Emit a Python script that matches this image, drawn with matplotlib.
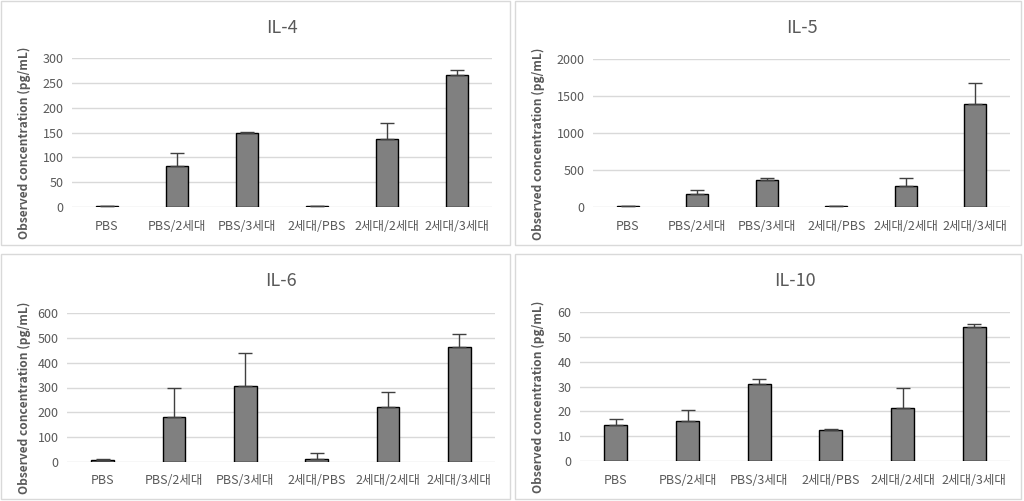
import numpy as np
import matplotlib.pyplot as plt
from matplotlib.patches import Rectangle

plt.rcParams['font.family'] = ['Noto Sans CJK KR', 'DejaVu Sans']

categories = ['PBS', 'PBS/2세대', 'PBS/3세대', '2세대/PBS', '2세대/2세대', '2세대/3세대']

il4_mean = [2, 82, 148, 2, 137, 265]
il4_err = [0, 26, 3, 0, 33, 10]
il4_ticks = [0, 50, 100, 150, 200, 250, 300]

il5_mean = [10, 176, 360, 10, 280, 1388]
il5_err = [0, 50, 28, 0, 108, 288]
il5_ticks = [0, 500, 1000, 1500, 2000]

il6_mean = [7, 181, 305, 11, 221, 463]
il6_err = [4, 117, 134, 24, 60, 52]
il6_ticks = [0, 100, 200, 300, 400, 500, 600]

il10_mean = [14.4, 16.0, 30.9, 12.4, 21.3, 54.0]
il10_err = [2.4, 4.5, 2.1, 0.3, 8.0, 1.2]
il10_ticks = [0, 10, 20, 30, 40, 50, 60]

W, H = 1024, 501
fig = plt.figure(figsize=(W / 100, H / 100), dpi=100)

text_col = '#595959'
grid_col = '#d9d9d9'


def px_rect(x0, y0, x1, y1):
    # pixel box (top-left origin) -> figure fraction
    return [x0 / W, 1 - y1 / H, (x1 - x0) / W, (y1 - y0) / H]


def panel(box, plot, title, mean, err, ticks):
    bx0, by0, bx1, by1 = box
    fig.patches.append(Rectangle((bx0 / W, 1 - by1 / H), (bx1 - bx0) / W, (by1 - by0) / H,
                                 transform=fig.transFigure, fill=False,
                                 edgecolor='#d9d9d9', linewidth=1))
    ax = fig.add_axes(px_rect(*plot))
    x = np.arange(len(categories))
    ax.bar(x, mean, width=0.32, color='#808080', edgecolor='black', linewidth=1, zorder=3)
    ax.errorbar(x, mean, yerr=[np.zeros(len(err)), err], fmt='none', ecolor='#404040',
                elinewidth=1, capsize=5, capthick=1, zorder=4)
    ax.set_xlim(-0.5, len(categories) - 0.5)
    ax.set_ylim(0, ticks[-1])
    ax.set_yticks(ticks)
    ax.set_xticks(x)
    ax.set_xticklabels(categories)
    for s in ax.spines.values():
        s.set_visible(False)
    ax.grid(axis='y', color=grid_col, linewidth=1, zorder=0)
    ax.tick_params(length=0, labelsize=9, colors=text_col, pad=6)
    ax.tick_params(axis='x', pad=9)
    ax.set_ylabel('Observed concentration (pg/mL)', fontsize=8.6, fontweight='bold', color=text_col)
    ax.yaxis.set_label_coords((bx0 + 30 - plot[0]) / (plot[2] - plot[0]), 0.43)
    fig.text(((plot[0] + plot[2]) / 2) / W, 1 - (by0 + 27) / H, title, ha='center', va='center',
             fontsize=13, color=text_col)
    return ax


panel((1, 1, 510, 245), (72, 58, 492, 207), 'IL-4', il4_mean, il4_err, il4_ticks)
panel((515, 1, 1021, 245), (593, 59, 1010, 207), 'IL-5', il5_mean, il5_err, il5_ticks)
panel((1, 254, 510, 499), (67, 313, 495, 462), 'IL-6', il6_mean, il6_err, il6_ticks)
panel((515, 254, 1021, 499), (580, 312, 1010, 461), 'IL-10', il10_mean, il10_err, il10_ticks)

fig.savefig('out.png', dpi=100, facecolor='white')
